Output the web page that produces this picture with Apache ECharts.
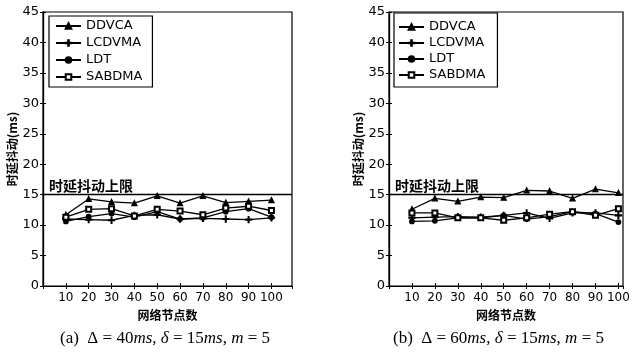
<!DOCTYPE html>
<html><head><meta charset="utf-8">
<script src="https://cdn.jsdelivr.net/npm/echarts@6/dist/echarts.min.js"></script>
<style>html,body{margin:0;padding:0;background:#fff}#c{width:642px;height:354px}</style>
</head><body><div id="c"></div>
<script>
const nodes = [10,20,30,40,50,60,70,80,90,100];
const seriesNames = ['DDVCA','LCDVMA','LDT','SABDMA'];
// panel (a)
const a_DDVCA  = [11.7,14.3,13.8,13.6,14.8,13.6,14.8,13.7,13.9,14.1];
const a_LCDVMA = [11.0,10.9,10.8,11.6,11.7,11.0,11.1,11.0,10.9,11.2];
const a_LDT    = [10.6,11.4,11.9,11.3,12.2,11.0,11.2,12.2,12.7,11.3];
const a_SABDMA = [11.3,12.6,12.7,11.5,12.6,12.3,11.7,12.8,13.1,12.4];
// panel (b)
const b_DDVCA  = [12.6,14.4,13.9,14.6,14.5,15.7,15.6,14.4,15.9,15.3];
const b_LCDVMA = [11.2,11.3,11.4,11.3,11.6,12.0,11.1,12.0,12.0,11.6];
const b_LDT    = [10.6,10.7,11.2,11.2,11.6,11.0,11.4,12.2,11.9,10.5];
const b_SABDMA = [12.0,12.0,11.2,11.2,10.8,11.2,11.8,12.2,11.6,12.7];
const limitValue = 15;
const limitLabel = '时延抖动上限';
const yName = '时延抖动(ms)';
const xName = '网络节点数';

const plusPath = 'path://M4.4,0H5.6V4.4H10V5.6H5.6V10H4.4V5.6H0V4.4H4.4Z';
const symbols = {DDVCA:'triangle', LCDVMA:plusPath, LDT:'circle', SABDMA:'emptyRect'};
const sizes = {DDVCA:5, LCDVMA:6, LDT:4.5, SABDMA:5};

const grids = [
  {left:43, top:12, width:249, height:274, xmax:109},
  {left:389, top:12, width:234, height:274, xmax:102}
];
const panels = [
  {DDVCA:a_DDVCA, LCDVMA:a_LCDVMA, LDT:a_LDT, SABDMA:a_SABDMA},
  {DDVCA:b_DDVCA, LCDVMA:b_LCDVMA, LDT:b_LDT, SABDMA:b_SABDMA}
];

const lab = {color:'#000', fontFamily:'DejaVu Sans', fontSize:12};
const xAxis = [], yAxis = [], series = [];
grids.forEach((g, gi) => {
  xAxis.push({type:'value', gridIndex:gi, min:0, max:g.xmax, interval:10, position:'bottom',
    name:xName, nameLocation:'middle', nameGap:23,
    nameTextStyle:{color:'#000', fontFamily:'Noto Sans CJK SC', fontSize:12, fontWeight:'bold'},
    axisLine:{lineStyle:{color:'#000', width:1.2}},
    axisTick:{inside:true, length:3, lineStyle:{color:'#000'}},
    axisLabel:Object.assign({margin:6, showMaxLabel:false, formatter:v => (v>0 && v<=100) ? String(v) : ''}, lab),
    splitLine:{show:false}});
  xAxis.push({type:'value', gridIndex:gi, min:0, max:g.xmax, interval:10, position:'top',
    axisLine:{lineStyle:{color:'#000', width:1.2}},
    axisTick:{inside:true, length:3, lineStyle:{color:'#000'}},
    axisLabel:{show:false}, splitLine:{show:false}});
  yAxis.push({type:'value', gridIndex:gi, min:0, max:45, interval:5, position:'left',
    name:yName, nameLocation:'middle', nameGap:24, nameRotate:90,
    nameTextStyle:{color:'#000', fontFamily:'Noto Sans CJK SC', fontSize:12, fontWeight:'bold'},
    axisLine:{lineStyle:{color:'#000', width:1.2}},
    axisTick:{inside:true, length:3, lineStyle:{color:'#000'}},
    axisLabel:Object.assign({margin:4}, lab, {fontSize:13}),
    splitLine:{show:false}});
  yAxis.push({type:'value', gridIndex:gi, min:0, max:45, interval:5, position:'right',
    axisLine:{lineStyle:{color:'#000', width:1.2}},
    axisTick:{inside:true, length:3, lineStyle:{color:'#000'}},
    axisLabel:{show:false}, splitLine:{show:false}});
  seriesNames.forEach((n, si) => {
    const s = {
      name:n, type:'line', xAxisIndex:gi*2, yAxisIndex:gi*2,
      data:nodes.map((x,i) => [x, panels[gi][n][i]]),
      symbol:symbols[n], symbolSize:sizes[n],
      lineStyle:{color:'#000', width:1.3},
      itemStyle:{color:'#000', borderColor:'#000', borderWidth:1.3},
      animation:false, z:3
    };
    if (si === 0) {
      s.markLine = {silent:true, symbol:'none', animation:false,
        lineStyle:{color:'#000', width:1.3, type:'solid'},
        label:{show:true, position:'insideStartTop', formatter:limitLabel, color:'#000',
          fontFamily:'Noto Sans CJK SC', fontSize:14, fontWeight:'bold', distance:[6,2]},
        data:[{yAxis:limitValue}]};
    }
    series.push(s);
  });
});

const legendBase = {orient:'vertical', data:seriesNames, backgroundColor:'#fff',
  borderColor:'#000', borderWidth:1.2, itemWidth:25, itemHeight:7,
  textStyle:{color:'#000', fontFamily:'DejaVu Sans', fontSize:13, lineHeight:14},
  selectedMode:false, z:10};
const legend = [
  Object.assign({}, legendBase, {left:49, top:16, padding:[3,10,3,6], itemGap:3}),
  Object.assign({}, legendBase, {left:394, top:13, padding:[7,12,5,4], itemGap:2})
];

const captionRich = {i:{fontStyle:'italic', fontFamily:'Liberation Serif', fontSize:17, fill:'#000'}};
const chart = echarts.init(document.getElementById('c'), null, {renderer:'canvas'});
chart.setOption({
  animation:false,
  grid:grids.map(g => ({left:g.left, top:g.top, width:g.width, height:g.height, show:true,
    borderColor:'#000', borderWidth:1.2, backgroundColor:'transparent'})),
  xAxis, yAxis, legend, series,
  graphic:[
    {type:'text', left:60, top:330, style:{text:'(a)  Δ = 40{i|ms}, {i|δ} = 15{i|ms}, {i|m} = 5',
      font:'17px "Liberation Serif"', fill:'#000', rich:captionRich}},
    {type:'text', left:393, top:330, style:{text:'(b)  Δ = 60{i|ms}, {i|δ} = 15{i|ms}, {i|m} = 5',
      font:'17px "Liberation Serif"', fill:'#000', rich:captionRich}}
  ]
});
</script></body></html>
